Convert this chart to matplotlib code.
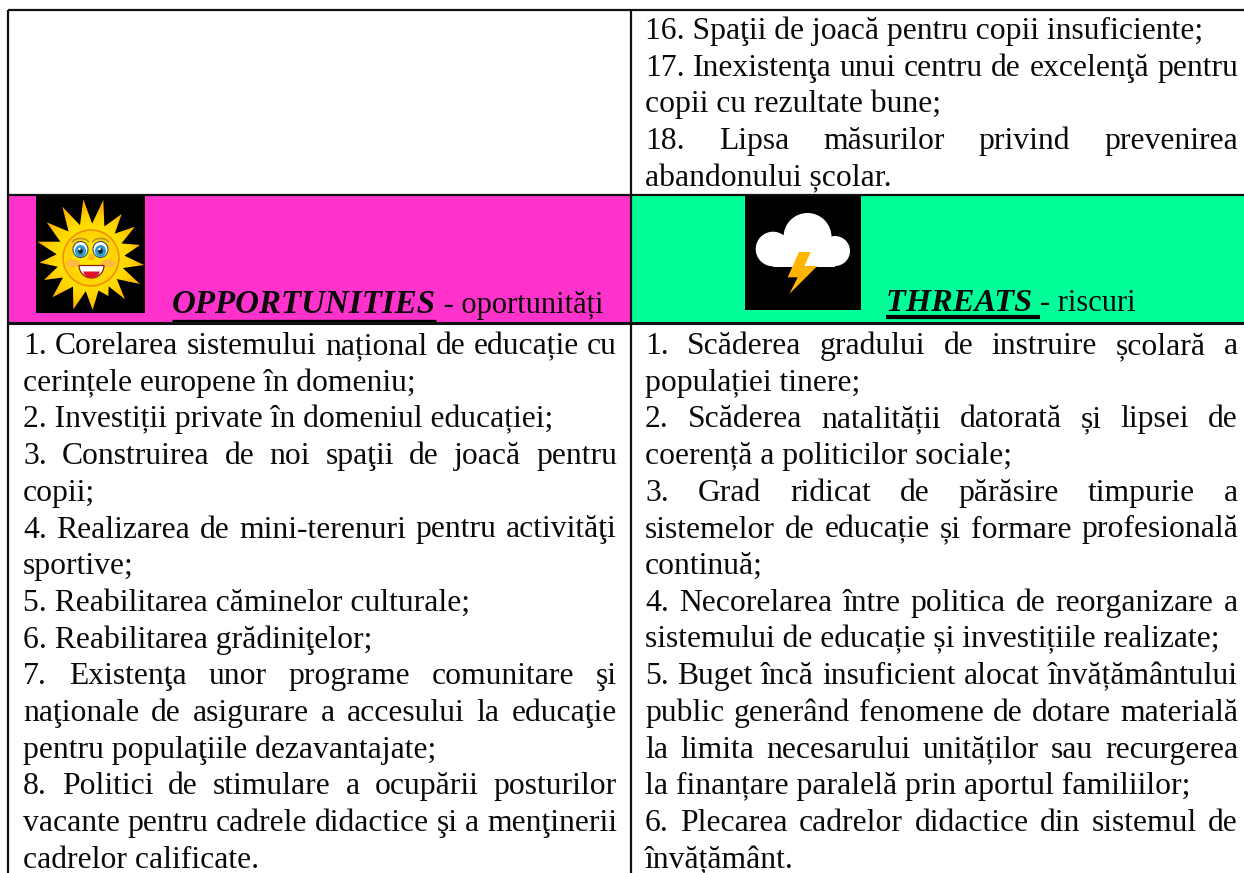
"""Tabel SWOT (oportunitati / riscuri) redesenat cu matplotlib."""

import numpy as np
import matplotlib
matplotlib.use("Agg")
import matplotlib.pyplot as plt
from matplotlib.colors import LinearSegmentedColormap
from matplotlib.patches import Circle, Ellipse, Polygon, Rectangle

plt.rcParams["font.family"] = ["Liberation Serif", "DejaVu Serif"]

LINII_SUS = [
    "16. Spaţii de joacă pentru copii insuficiente;",
    "17. Inexistenţa unui centru de excelenţă pentru",
    "copii cu rezultate bune;",
    "18. Lipsa măsurilor privind prevenirea",
    "abandonului școlar.",
]
LINII_OPORTUNITATI = [
    "1. Corelarea sistemului național de educație cu",
    "cerințele europene în domeniu;",
    "2. Investiții private în domeniul educației;",
    "3. Construirea de noi spaţii de joacă pentru",
    "copii;",
    "4. Realizarea de mini-terenuri pentru activităţi",
    "sportive;",
    "5. Reabilitarea căminelor culturale;",
    "6. Reabilitarea grădiniţelor;",
    "7. Existenţa unor programe comunitare şi",
    "naţionale de asigurare a accesului la educaţie",
    "pentru populaţiile dezavantajate;",
    "8. Politici de stimulare a ocupării posturilor",
    "vacante pentru cadrele didactice şi a menţinerii",
    "cadrelor calificate.",
]
LINII_RISCURI = [
    "1. Scăderea gradului de instruire școlară a",
    "populației tinere;",
    "2. Scăderea natalității datorată și lipsei de",
    "coerență a politicilor sociale;",
    "3. Grad ridicat de părăsire timpurie a",
    "sistemelor de educație și formare profesională",
    "continuă;",
    "4. Necorelarea între politica de reorganizare a",
    "sistemului de educație și investițiile realizate;",
    "5. Buget încă insuficient alocat învățământului",
    "public generând fenomene de dotare materială",
    "la limita necesarului unităților sau recurgerea",
    "la finanțare paralelă prin aportul familiilor;",
    "6. Plecarea cadrelor didactice din sistemul de",
    "învățământ.",
]
# varfurile razelor soarelui, in pixeli fata de coltul (20, 190), ori 3
RAZE_X = [190, 250, 305, 345, 360, 372, 360, 315, 265, 218, 160, 97, 72, 58, 52, 80, 127]
RAZE_Y = [28, 30, 72, 110, 165, 225, 282, 328, 318, 360, 358, 322, 270, 218, 155, 97, 50]

FONT = 22.8
PAS = 36.7

fig = plt.figure(figsize=(12.44, 8.73), dpi=100)
ax = fig.add_axes([0, 0, 1, 1])
ax.axis("off")
rend = fig.canvas.get_renderer()


def latime(s):
    t = ax.text(0, 0, s, fontsize=FONT)
    w = t.get_window_extent(rend).width
    t.remove()
    return w


def paragraf(linii, x0, x1, y0):
    # liniile care nu se termina in ; sau . sunt aliniate pe ambele margini
    for i, s in enumerate(linii):
        y = y0 + i * PAS
        if s[-1] in ";.":
            ax.text(x0, y, s, fontsize=FONT, va="baseline", color="#0a0a0a")
            continue
        cuv = s.split()
        lat = [latime(c) for c in cuv]
        gol = (x1 - x0 - sum(lat)) / (len(cuv) - 1)
        x = x0
        for c, w in zip(cuv, lat):
            ax.text(x, y, c, fontsize=FONT, va="baseline", color="#0a0a0a")
            x += w + gol


def soare():
    ax.add_patch(Rectangle((36, 195), 109, 118, fc="black", ec="none", zorder=2))
    cx, cy = 90.5, 257.5
    vx = 20 + np.array(RAZE_X) / 3
    vy = 190 + np.array(RAZE_Y) / 3
    ung = np.unwrap(np.arctan2(vy - cy, vx - cx))
    mij = ung + np.diff(np.append(ung, ung[0] + 2 * np.pi)) / 2
    pts = []
    for a, b, c in zip(vx, vy, mij):
        pts.append((a, b))
        pts.append((cx + 34 * np.cos(c), cy + 34 * np.sin(c)))
    raze = Polygon(pts, fc="none", ec="none", zorder=3)
    ax.add_patch(raze)
    # gradient radial pentru raze, taiat dupa conturul stelei
    xx, yy = np.meshgrid(np.linspace(30, 150, 240), np.linspace(195, 315, 240))
    dist = np.hypot(xx - cx, yy - cy)
    cmap = LinearSegmentedColormap.from_list("raze", ["#ffe600", "#ffd000", "#ff9d00"])
    im = ax.imshow(dist, extent=(30, 150, 315, 195), cmap=cmap, vmin=25, vmax=58,
                   aspect="auto", zorder=3, interpolation="bilinear")
    im.set_clip_path(raze)
    ax.add_patch(Circle((cx + 0.5, cy + 0.5), 28, fc="#ffd400", ec="#f0900e", lw=1.2, zorder=4))
    ax.add_patch(Circle((cx + 0.5, cy + 0.5), 19, fc="#ffe400", ec="none", zorder=4))
    for dx in (-10, 10):
        ax.add_patch(Ellipse((cx + dx * 1.75, cy + 6), 14, 8, fc="#ffb840", ec="none", zorder=5))
        ax.add_patch(Ellipse((cx + dx, cy - 8), 15, 16, fc="white", ec="#3a4a70", lw=0.8, zorder=5))
        ax.add_patch(Ellipse((cx + dx, cy - 6.5), 11, 12, fc="#2f9cc4", ec="none", zorder=6))
        ax.add_patch(Ellipse((cx + dx, cy - 6.5), 4.5, 5.5, fc="#10202c", ec="none", zorder=7))
        ax.add_patch(Circle((cx + dx - 1, cy - 8.5), 1.2, fc="white", ec="none", zorder=8))
        t = np.linspace(np.pi * 1.15, np.pi * 1.85, 12)
        ax.plot(cx + dx + 9 * np.cos(t), cy - 13 + 6 * np.sin(t), color="#b08a30", lw=1, zorder=5)
    ax.add_patch(Circle((cx + 1, cy), 3, fc="#ffb020", ec="none", zorder=5))
    # gura: buza de jos semi-elipsa, dinti albi sus
    t = np.linspace(0, np.pi, 30)
    gura = np.column_stack([cx + 1 + 12.5 * np.cos(t), cy + 8 + 12.5 * np.sin(t)])
    ax.add_patch(Polygon(gura, fc="white", ec="#8a2010", lw=0.9, zorder=5))
    limba = np.column_stack([cx + 1 + 8 * np.cos(t), cy + 14 + 6.5 * np.sin(t)])
    ax.add_patch(Polygon(limba, fc="#e01030", ec="none", zorder=6))


def nor():
    ax.add_patch(Rectangle((745, 195), 115.5, 115, fc="black", ec="none", zorder=2))
    alb = dict(fc="white", ec="none", zorder=3)
    ax.add_patch(Circle((807.5, 237), 24, **alb))
    ax.add_patch(Circle((773, 249), 17.3, **alb))
    ax.add_patch(Circle((835, 251), 15, **alb))
    ax.add_patch(Rectangle((773, 237), 62, 29.5, **alb))
    ax.add_patch(Polygon([(799, 252), (810.7, 252), (804.3, 266), (817.3, 266),
                          (789.3, 294), (797.7, 277.3), (787.7, 277.3)],
                         fc="#ffb400", ec="none", zorder=4))


def antet(x, y, titlu, rest, sub_y, sub_gros, mar_titlu):
    t = ax.text(x, y, titlu, fontsize=mar_titlu, fontstyle="italic", fontweight="bold",
                va="baseline", color="#0a0a0a", zorder=5)
    w = t.get_window_extent(rend).width
    ax.plot([x, x + w], [sub_y, sub_y], color="black", lw=sub_gros, solid_capstyle="butt", zorder=5)
    ax.text(x + w, y, rest, fontsize=22, va="baseline", color="#0a0a0a", zorder=5)


# fundal celule antet
ax.add_patch(Rectangle((8, 195), 623, 128, fc="#ff33cc", ec="none", zorder=1))
ax.add_patch(Rectangle((631, 195), 613, 128, fc="#00ff99", ec="none", zorder=1))

soare()
nor()
antet(172, 313, "OPPORTUNITIES", " - oportunități", 320.5, 2.4, 23.8)
antet(886, 311, "THREATS ", "- riscuri", 316.5, 3, 23.4)

paragraf(LINII_SUS, 645, 1238, 39)
paragraf(LINII_OPORTUNITATI, 23, 617, 354)
paragraf(LINII_RISCURI, 645, 1238, 354)

# chenar tabel
gros = dict(color="#111111", lw=1.6, zorder=6, solid_capstyle="butt")
ax.plot([8, 1244], [10, 10], **gros)
ax.plot([8, 1244], [195, 195], **gros)
ax.plot([8, 1244], [323, 323], color="#111111", lw=2.2, zorder=6, solid_capstyle="butt")
ax.plot([8, 8], [10, 873], **gros)
ax.plot([631, 631], [10, 873], **gros)

ax.set_xlim(0, 1244)
ax.set_ylim(873, 0)
fig.savefig("out.png", dpi=100)
